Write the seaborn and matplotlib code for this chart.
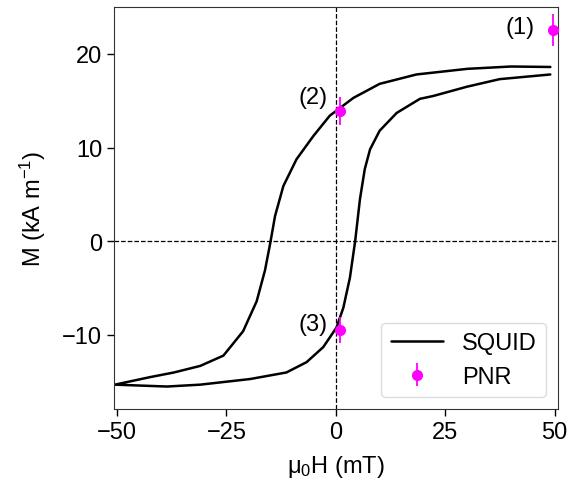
import numpy as np
import pandas as pd
import seaborn as sns
import matplotlib
matplotlib.use('Agg')
import matplotlib.pyplot as plt

# SQUID hysteresis loop, descending branch (+H -> -H)
h_down = [49, 40, 30, 18.4, 10, 4, -1.4, -5.2, -9, -12, -13.9, -15, -16.2,
          -18.1, -21.2, -25.7, -31, -37, -42.5, -50.5]
m_down = [18.6, 18.65, 18.4, 17.8, 16.8, 15.3, 13.4, 11.2, 8.75, 5.9, 2.7, -0.2,
          -3.1, -6.4, -9.6, -12.2, -13.3, -14.0, -14.5, -15.3]

# ascending branch (-H -> +H)
h_up = [-50.5, -38.6, -31, -19.6, -11.3, -6.7, -2.9, 0.15, 1.7, 3.2, 4.4, 5.5,
        6.6, 7.8, 10, 13.9, 19.2, 22.2, 30, 37.4, 49]
m_up = [-15.3, -15.5, -15.3, -14.7, -14.0, -12.9, -11.3, -9.2, -7.1, -3.9, 0,
        4.5, 7.7, 9.8, 11.8, 13.7, 15.2, 15.5, 16.5, 17.3, 17.8]

# PNR points
pnr_h = [49.5, 1.0, 1.0]
pnr_m = [22.5, 13.9, -9.5]
pnr_err = [1.7, 1.5, 1.4]
pnr_labels = ['(1)', '(2)', '(3)']

sns.set_style('ticks')
plt.rcParams['font.family'] = ['Liberation Sans', 'DejaVu Sans']
plt.rcParams['mathtext.fontset'] = 'custom'
plt.rcParams['mathtext.rm'] = 'Liberation Sans'
plt.rcParams['mathtext.it'] = 'Liberation Sans:italic'
plt.rcParams['text.color'] = 'black'
plt.rcParams['axes.labelcolor'] = 'black'

fig, ax = plt.subplots(figsize=(5.68, 4.85), dpi=100)
fig.subplots_adjust(left=0.2007, right=0.982, top=0.9835, bottom=0.1546)

ax.axhline(0, color='black', ls='--', lw=0.9)
ax.axvline(0, color='black', ls='--', lw=0.9)

loop = pd.DataFrame({'H': h_down + h_up, 'M': m_down + m_up})
ax.plot(loop['H'], loop['M'], color='black', lw=1.8, label='SQUID')

ax.errorbar(pnr_h, pnr_m, yerr=pnr_err, fmt='o', color='magenta', ms=7,
            elinewidth=1.3, label='PNR', zorder=5, clip_on=False)

offsets = [(-18, 3), (-13, 14), (-13, 6)]
for h, m, lab, off in zip(pnr_h, pnr_m, pnr_labels, offsets):
    ax.annotate(lab, (h, m), xytext=off, textcoords='offset pixels',
                ha='right', va='center', fontsize=17)

ax.set_xlim(-50.7, 50.7)
ax.set_ylim(-17.9, 25)
ax.set_xticks([-50, -25, 0, 25, 50])
ax.set_yticks([-10, 0, 10, 20])
ax.tick_params(labelsize=17, length=5, width=1, colors='black')
for s in ax.spines.values():
    s.set_color('0.2')
ax.set_xlabel('μ$_0$H (mT)', fontsize=17, labelpad=7)
ax.set_ylabel(r'M (kA m$^{-1}$)', fontsize=17, labelpad=10)

ax.legend(loc='lower right', fontsize=17, frameon=True, edgecolor='lightgrey',
          handlelength=2.2, borderaxespad=0.5)

fig.savefig('out.png', dpi=100)
